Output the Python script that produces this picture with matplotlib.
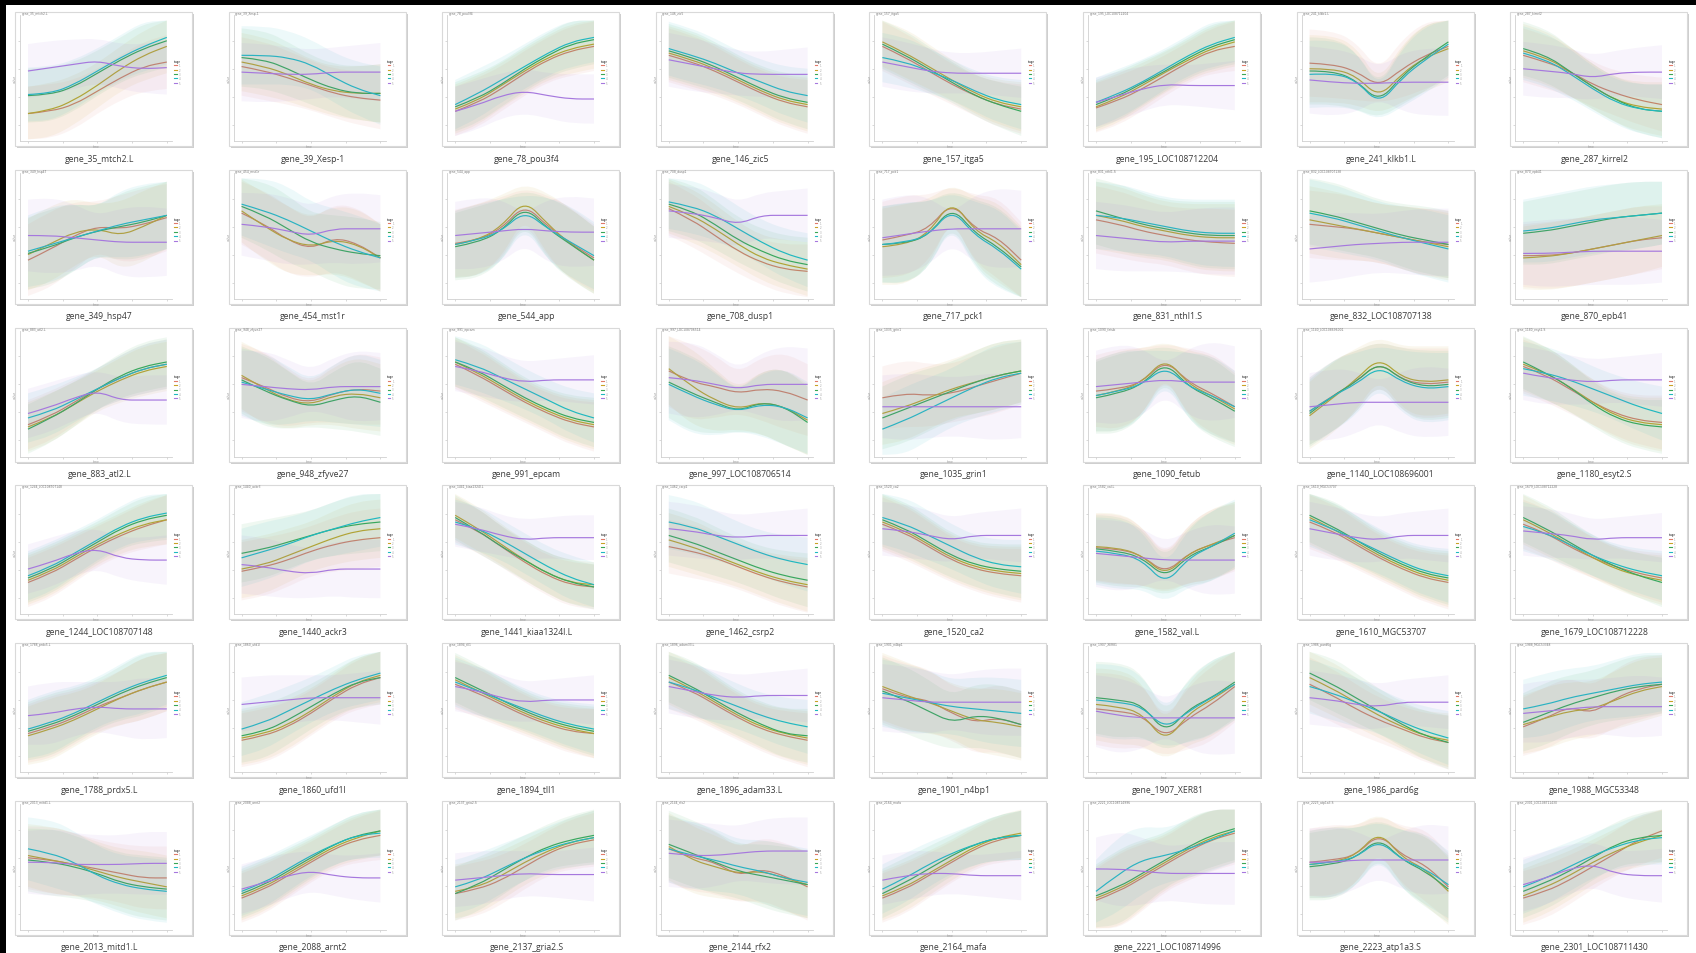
import numpy as np
import matplotlib
matplotlib.use("Agg")
import matplotlib.pyplot as plt
from matplotlib.patches import Rectangle, PathPatch
from matplotlib.path import Path

# ---------------- data ----------------
genes = ["gene_35_mtch2.L", "gene_39_Xesp-1", "gene_78_pou3f4", "gene_146_zic5", "gene_157_itga5",
         "gene_195_LOC108712204", "gene_241_klkb1.L", "gene_287_kirrel2",
         "gene_349_hsp47", "gene_454_mst1r", "gene_544_app", "gene_708_dusp1", "gene_717_pck1",
         "gene_831_nthl1.S", "gene_832_LOC108707138", "gene_870_epb41",
         "gene_883_atl2.L", "gene_948_zfyve27", "gene_991_epcam", "gene_997_LOC108706514", "gene_1035_grin1",
         "gene_1090_fetub", "gene_1140_LOC108696001", "gene_1180_esyt2.S",
         "gene_1244_LOC108707148", "gene_1440_ackr3", "gene_1441_kiaa1324l.L", "gene_1462_csrp2", "gene_1520_ca2",
         "gene_1582_val.L", "gene_1610_MGC53707", "gene_1679_LOC108712228",
         "gene_1788_prdx5.L", "gene_1860_ufd1l", "gene_1894_tll1", "gene_1896_adam33.L", "gene_1901_n4bp1",
         "gene_1907_XER81", "gene_1986_pard6g", "gene_1988_MGC53348",
         "gene_2013_mitd1.L", "gene_2088_arnt2", "gene_2137_gria2.S", "gene_2144_rfx2", "gene_2164_mafa",
         "gene_2221_LOC108714996", "gene_2223_atp1a3.S", "gene_2301_LOC108711430"]

time_points = [0, 0.67, 1.33, 2, 2.67, 3.33, 4]

red = [
    [20, 22, 28, 40, 52, 62, 66], [62, 58, 52, 45, 38, 34, 32], [22, 30, 42, 56, 68, 76, 80], [72, 66, 58, 48, 38, 30, 26],
    [80, 70, 58, 46, 36, 28, 24], [25, 32, 42, 54, 66, 76, 80], [65, 64, 58, 44, 60, 72, 80], [72, 66, 58, 46, 38, 32, 28],
    [30, 40, 52, 60, 58, 62, 68], [72, 62, 48, 40, 50, 45, 32], [45, 48, 58, 80, 60, 45, 32], [76, 66, 52, 38, 28, 22, 20],
    [48, 52, 58, 82, 58, 50, 30], [66, 62, 56, 52, 48, 46, 45], [62, 60, 58, 54, 50, 46, 44], [34, 34, 36, 40, 44, 48, 50],
    [24, 32, 44, 56, 66, 74, 78], [66, 58, 48, 44, 52, 56, 54], [78, 68, 56, 44, 34, 26, 22], [72, 62, 58, 52, 56, 54, 46],
    [48, 52, 50, 52, 58, 64, 70], [54, 56, 62, 82, 62, 52, 40], [36, 50, 62, 80, 64, 60, 62], [76, 68, 56, 44, 34, 28, 26],
    [24, 32, 44, 56, 66, 74, 80], [34, 38, 44, 52, 58, 62, 64], [80, 70, 56, 42, 30, 22, 20], [56, 52, 46, 38, 30, 24, 20],
    [76, 68, 56, 44, 36, 32, 30], [55, 54, 48, 32, 50, 58, 64], [78, 70, 58, 46, 36, 28, 24], [76, 68, 56, 46, 38, 32, 28],
    [30, 36, 44, 54, 62, 70, 76], [24, 28, 36, 48, 62, 74, 80], [74, 66, 56, 46, 38, 32, 30], [76, 68, 56, 44, 34, 28, 24],
    [70, 62, 60, 48, 40, 44, 38], [52, 50, 46, 26, 44, 56, 72], [74, 64, 52, 42, 34, 26, 22], [36, 44, 54, 48, 62, 70, 74],
    [60, 58, 54, 50, 46, 42, 42], [24, 32, 44, 56, 68, 76, 80], [28, 32, 40, 52, 64, 72, 76], [68, 60, 56, 44, 50, 44, 34],
    [24, 32, 44, 56, 68, 76, 80], [22, 30, 42, 54, 66, 76, 82], [56, 58, 62, 82, 62, 54, 34], [24, 30, 40, 52, 64, 76, 84]]

gold = [
    [20, 23, 32, 45, 60, 72, 80], [66, 62, 55, 46, 40, 38, 38], [24, 32, 45, 58, 70, 78, 82], [74, 68, 60, 50, 40, 32, 28],
    [84, 74, 62, 50, 38, 30, 26], [26, 34, 45, 57, 68, 78, 84], [60, 60, 54, 34, 56, 70, 78], [76, 70, 58, 44, 32, 26, 24],
    [35, 45, 55, 58, 52, 60, 70], [74, 60, 48, 42, 48, 44, 32], [44, 48, 60, 84, 62, 44, 30], [78, 70, 58, 44, 32, 26, 22],
    [42, 44, 54, 84, 56, 46, 26], [70, 66, 60, 56, 52, 50, 50], [66, 62, 58, 54, 50, 46, 42], [32, 33, 36, 40, 44, 48, 52],
    [22, 30, 42, 54, 64, 72, 76], [68, 56, 46, 42, 50, 52, 48], [80, 70, 58, 46, 36, 28, 24], [74, 58, 46, 38, 44, 40, 28],
    [34, 40, 48, 56, 62, 68, 72], [50, 54, 62, 84, 60, 50, 38], [32, 48, 64, 84, 66, 62, 64], [78, 70, 58, 44, 32, 26, 24],
    [26, 34, 46, 58, 68, 76, 80], [36, 40, 48, 56, 64, 70, 72], [84, 72, 58, 44, 32, 24, 22], [62, 56, 48, 40, 32, 26, 22],
    [78, 70, 58, 46, 38, 34, 32], [56, 55, 48, 30, 50, 58, 66], [82, 72, 60, 48, 38, 30, 26], [80, 70, 58, 46, 36, 30, 26],
    [28, 34, 42, 52, 62, 70, 76], [26, 30, 38, 50, 64, 76, 82], [78, 68, 58, 48, 40, 34, 30], [80, 70, 58, 46, 36, 30, 26],
    [72, 64, 58, 50, 42, 40, 36], [56, 54, 48, 22, 48, 60, 74], [80, 70, 58, 46, 36, 28, 24], [38, 44, 50, 52, 60, 68, 72],
    [62, 58, 54, 48, 42, 38, 34], [26, 34, 46, 58, 70, 78, 84], [30, 34, 44, 56, 66, 74, 78], [70, 58, 52, 46, 48, 42, 36],
    [26, 34, 46, 58, 70, 78, 82], [24, 32, 44, 56, 68, 78, 84], [54, 56, 62, 84, 60, 50, 30], [26, 34, 44, 56, 66, 74, 80]]

green = [
    [36, 37, 44, 56, 68, 78, 85], [70, 68, 60, 50, 42, 38, 38], [26, 34, 46, 60, 72, 82, 86], [76, 70, 62, 52, 42, 34, 30],
    [82, 72, 60, 48, 36, 28, 22], [28, 36, 47, 58, 70, 80, 86], [58, 58, 50, 30, 54, 70, 84], [78, 72, 58, 44, 32, 24, 22],
    [36, 42, 50, 56, 60, 64, 70], [78, 70, 58, 46, 40, 36, 34], [42, 46, 56, 78, 58, 44, 30], [80, 74, 62, 48, 38, 30, 26],
    [44, 45, 52, 78, 54, 42, 24], [74, 68, 62, 58, 54, 52, 52], [74, 70, 64, 58, 52, 48, 44], [54, 56, 60, 64, 68, 70, 72],
    [20, 30, 42, 56, 68, 76, 80], [64, 54, 46, 40, 46, 50, 44], [80, 72, 60, 48, 38, 30, 26], [62, 52, 44, 36, 44, 40, 26],
    [30, 38, 46, 54, 62, 68, 72], [48, 52, 60, 80, 58, 48, 36], [34, 50, 62, 80, 64, 58, 60], [80, 70, 58, 42, 30, 24, 22],
    [28, 36, 48, 60, 72, 80, 84], [50, 54, 60, 66, 72, 76, 78], [82, 70, 56, 44, 32, 24, 20], [66, 60, 52, 44, 36, 30, 26],
    [80, 72, 60, 48, 40, 36, 34], [54, 52, 46, 28, 48, 56, 66], [84, 74, 62, 50, 40, 32, 28], [82, 72, 60, 48, 38, 30, 24],
    [32, 38, 46, 56, 66, 74, 80], [28, 32, 42, 54, 66, 76, 80], [80, 70, 60, 50, 42, 36, 32], [82, 72, 60, 48, 38, 30, 28],
    [68, 60, 50, 40, 46, 44, 38], [62, 60, 56, 30, 52, 62, 76], [84, 74, 62, 50, 38, 28, 22], [40, 48, 56, 62, 68, 72, 74],
    [58, 56, 52, 46, 38, 34, 32], [28, 36, 48, 60, 72, 80, 84], [28, 36, 48, 60, 70, 76, 80], [72, 64, 56, 48, 44, 40, 36],
    [28, 38, 50, 62, 72, 78, 80], [26, 34, 46, 58, 70, 80, 86], [52, 54, 60, 78, 58, 48, 32], [30, 38, 48, 60, 72, 78, 80]]

teal = [
    [37, 38, 46, 58, 70, 80, 88], [72, 72, 70, 64, 52, 42, 36], [28, 38, 50, 62, 74, 84, 88], [78, 72, 65, 56, 48, 40, 36],
    [70, 66, 58, 50, 40, 32, 28], [30, 38, 48, 60, 72, 82, 88], [55, 56, 50, 28, 52, 68, 82], [74, 68, 56, 42, 30, 24, 22],
    [38, 44, 50, 56, 62, 66, 70], [80, 74, 66, 56, 46, 38, 32], [44, 48, 56, 74, 58, 46, 34], [82, 78, 70, 58, 46, 36, 30],
    [44, 46, 52, 76, 52, 40, 22], [70, 68, 64, 60, 56, 54, 54], [72, 68, 62, 56, 50, 45, 40], [56, 58, 62, 66, 68, 70, 72],
    [30, 36, 46, 56, 66, 74, 78], [62, 56, 50, 46, 52, 56, 52], [82, 76, 66, 56, 46, 36, 30], [60, 50, 42, 36, 42, 40, 30],
    [20, 28, 38, 48, 58, 66, 70], [50, 54, 60, 76, 58, 50, 40], [36, 50, 60, 76, 62, 56, 58], [74, 70, 64, 56, 48, 40, 34],
    [30, 38, 50, 62, 74, 82, 86], [46, 52, 58, 66, 72, 78, 82], [78, 72, 62, 50, 38, 28, 22], [78, 74, 66, 58, 50, 44, 40],
    [82, 76, 66, 56, 46, 40, 38], [52, 50, 44, 22, 46, 56, 68], [80, 72, 62, 52, 42, 34, 30], [74, 68, 58, 48, 40, 34, 30],
    [34, 40, 48, 58, 68, 76, 82], [34, 40, 50, 60, 70, 78, 84], [76, 68, 60, 52, 44, 38, 34], [76, 70, 62, 54, 46, 40, 36],
    [66, 62, 58, 54, 52, 50, 48], [60, 58, 54, 34, 50, 62, 74], [72, 66, 58, 50, 40, 32, 26], [52, 56, 62, 66, 70, 74, 76],
    [68, 64, 56, 44, 36, 32, 30], [30, 38, 50, 62, 72, 80, 82], [34, 40, 50, 60, 68, 74, 78], [68, 62, 58, 52, 48, 42, 38],
    [32, 42, 54, 64, 72, 78, 80], [30, 46, 58, 62, 68, 76, 84], [54, 56, 60, 76, 58, 50, 36], [34, 42, 52, 62, 70, 76, 78]]

purple = [
    [58, 61, 64, 67, 62, 60, 61], [57, 56, 55, 55, 57, 57, 57], [22, 28, 36, 40, 36, 33, 33], [68, 64, 60, 56, 55, 55, 55],
    [66, 62, 58, 56, 56, 56, 56], [30, 36, 42, 46, 45, 45, 45], [50, 48, 47, 47, 48, 48, 48], [60, 58, 56, 52, 56, 57, 57],
    [52, 52, 50, 48, 46, 46, 46], [62, 60, 56, 52, 58, 58, 58], [52, 54, 56, 58, 56, 55, 55], [74, 72, 68, 62, 70, 70, 70],
    [50, 53, 56, 58, 58, 58, 58], [52, 50, 48, 46, 47, 47, 47], [40, 42, 44, 45, 46, 46, 46], [36, 36, 37, 38, 38, 38, 38],
    [34, 40, 48, 54, 46, 46, 46], [60, 58, 56, 55, 58, 58, 58], [76, 72, 66, 62, 64, 64, 64], [66, 64, 60, 56, 60, 60, 60],
    [40, 40, 40, 40, 40, 40, 40], [58, 60, 62, 64, 62, 62, 62], [40, 42, 44, 44, 44, 44, 44], [70, 66, 64, 62, 64, 64, 64],
    [36, 42, 50, 54, 46, 44, 44], [40, 38, 34, 32, 36, 36, 36], [76, 72, 66, 62, 64, 64, 64], [72, 70, 66, 64, 66, 66, 66],
    [72, 70, 66, 62, 66, 66, 66], [50, 48, 46, 44, 44, 44, 44], [72, 68, 64, 62, 66, 66, 66], [70, 68, 66, 62, 64, 64, 64],
    [46, 48, 52, 54, 52, 52, 52], [56, 58, 60, 62, 62, 62, 62], [72, 68, 62, 58, 60, 60, 60], [72, 68, 64, 62, 64, 64, 64],
    [62, 60, 58, 58, 58, 58, 58], [50, 46, 44, 44, 44, 44, 44], [62, 60, 56, 54, 58, 58, 58], [48, 50, 52, 54, 54, 54, 54],
    [56, 56, 54, 54, 54, 55, 55], [32, 38, 44, 48, 44, 42, 42], [40, 42, 44, 46, 45, 45, 45], [64, 62, 62, 64, 66, 66, 66],
    [40, 44, 46, 46, 44, 44, 44], [50, 50, 48, 46, 46, 46, 46], [56, 56, 58, 58, 58, 58, 58], [36, 42, 50, 54, 46, 44, 44]]

spread = [
    [24, 24, 22, 20, 20, 22, 24], [26, 26, 24, 22, 22, 24, 26], [22, 22, 20, 20, 20, 22, 22], [24, 24, 22, 20, 20, 22, 24],
    [22, 22, 20, 18, 18, 20, 22], [22, 22, 20, 18, 18, 20, 22], [30, 30, 26, 14, 26, 30, 30], [24, 24, 22, 20, 20, 22, 24],
    [32, 34, 30, 22, 30, 32, 30], [28, 30, 30, 26, 30, 32, 30], [30, 32, 28, 14, 28, 32, 30], [24, 24, 22, 20, 20, 22, 24],
    [34, 36, 30, 14, 30, 36, 34], [30, 30, 28, 26, 28, 30, 30], [30, 30, 28, 26, 28, 30, 30], [28, 30, 30, 30, 30, 30, 28],
    [22, 22, 20, 18, 20, 22, 22], [30, 32, 26, 18, 26, 32, 30], [22, 22, 20, 18, 18, 20, 22], [32, 34, 28, 18, 28, 34, 32],
    [28, 30, 28, 26, 28, 30, 28], [32, 36, 30, 14, 30, 36, 32], [30, 32, 28, 18, 28, 32, 30], [24, 24, 22, 20, 20, 22, 24],
    [22, 22, 20, 18, 18, 20, 22], [26, 26, 24, 22, 24, 26, 26], [20, 20, 18, 18, 18, 20, 20], [24, 24, 22, 20, 20, 22, 24],
    [24, 24, 22, 20, 20, 22, 24], [30, 32, 26, 16, 26, 32, 30], [24, 24, 22, 20, 20, 22, 24], [22, 22, 20, 18, 18, 20, 22],
    [26, 28, 24, 22, 24, 28, 26], [24, 24, 22, 20, 20, 22, 24], [22, 22, 20, 18, 18, 20, 22], [24, 24, 22, 20, 20, 22, 24],
    [30, 30, 28, 24, 28, 30, 30], [32, 34, 28, 16, 28, 34, 32], [24, 24, 22, 20, 20, 22, 24], [26, 28, 26, 24, 26, 28, 26],
    [28, 30, 28, 26, 26, 28, 28], [22, 22, 20, 18, 18, 20, 22], [24, 24, 22, 20, 20, 22, 24], [30, 30, 28, 24, 28, 30, 30],
    [22, 22, 20, 18, 18, 20, 22], [28, 34, 30, 24, 26, 28, 28], [30, 32, 26, 16, 26, 32, 30], [24, 24, 22, 20, 20, 22, 24]]

group_names = ["1", "2", "3", "4", "5"]
colors = ["#e07a6a", "#c9a227", "#3aa655", "#20b8c0", "#a678de"]


# smooth (quadratic b-spline style) path through the read points
def smooth_path(xs, ys, start_code=Path.MOVETO):
    verts = [(xs[0], ys[0])]
    codes = [start_code]
    for k in range(1, len(xs) - 1):
        verts += [(xs[k], ys[k]), ((xs[k] + xs[k + 1]) / 2, (ys[k] + ys[k + 1]) / 2)]
        codes += [Path.CURVE3, Path.CURVE3]
    verts.append((xs[-1], ys[-1]))
    codes.append(Path.LINETO)
    return verts, codes


# ---------------- layout (pixels) ----------------
W_PX, H_PX = 1696, 954
fig = plt.figure(figsize=(W_PX / 100, H_PX / 100), dpi=100)
fig.patch.set_facecolor("white")

bg = fig.add_axes([0, 0, 1, 1])
bg.set_xlim(0, W_PX)
bg.set_ylim(H_PX, 0)
bg.axis("off")

# black screen edges
bg.add_patch(Rectangle((0, 0), W_PX, 6, fc="black", ec="none"))
bg.add_patch(Rectangle((0, 0), 6, H_PX, fc="black", ec="none"))

col_step, row_step = 213.6, 157.8
tw, th = 177, 134

for i, gene in enumerate(genes):
    r, c = divmod(i, 8)
    fx = 15 + c * col_step
    fy = 13 + r * row_step

    # thumbnail frame with a little shadow
    bg.add_patch(Rectangle((fx + 2, fy + 2), tw, th, fc="#cfcfcf", ec="none"))
    bg.add_patch(Rectangle((fx, fy), tw, th, fc="white", ec="#d9d9d9", lw=0.8))
    bg.text(fx + tw / 2 - 4, fy + th + 12, gene, ha="center", va="center",
            fontsize=6.2, color="#3a3a3a", family="Open Sans")

    # the small plot inside
    ax = fig.add_axes([(fx + 5) / W_PX, 1 - (fy + 129) / H_PX, 152 / W_PX, 126 / H_PX])
    ax.set_facecolor("none")
    sp = np.array(spread[i])
    for vals, col, name in zip([red[i], gold[i], green[i], teal[i], purple[i]], colors, group_names):
        v = np.array(vals)
        lo = np.clip(v - sp, -3, 103)
        hi = np.clip(v + sp, -3, 103)
        up_v, up_c = smooth_path(time_points, hi)
        dn_v, dn_c = smooth_path(time_points[::-1], lo[::-1], Path.LINETO)
        band = Path(up_v + dn_v + [up_v[0]], up_c + dn_c + [Path.CLOSEPOLY])
        ax.add_patch(PathPatch(band, fc=col, ec="none", alpha=0.08))
        ln_v, ln_c = smooth_path(time_points, v)
        ax.add_patch(PathPatch(Path(ln_v, ln_c), fc="none", ec=col, lw=0.85))
        ax.plot([], [], color=col, lw=0.8, label=name)

    ax.set_xlim(-0.23, 4.15)
    ax.set_ylim(-4.5, 108)
    ax.set_xticks([0, 1, 2, 3, 4])
    ax.set_yticks([10, 35, 60, 85])
    ax.tick_params(length=1.5, width=0.4, color="#bbbbbb", labelbottom=False, labelleft=False)
    for s in ["top", "right"]:
        ax.spines[s].set_visible(False)
    for s in ["left", "bottom"]:
        ax.spines[s].set_color("#d0d0d0")
        ax.spines[s].set_linewidth(0.6)
    ax.text(0.01, 1.0, gene, transform=ax.transAxes,
            fontsize=2.2, color="#777777", va="bottom")
    ax.set_xlabel("time", fontsize=2.2, color="#999999", labelpad=0.5)
    ax.set_ylabel("value", fontsize=2.2, color="#999999", labelpad=0.5)
    leg = ax.legend(title="stage", fontsize=1.8, title_fontsize=1.8, loc="center left",
                    bbox_to_anchor=(1.0, 0.55), frameon=False, handlelength=1.0,
                    labelspacing=0.15, borderpad=0.2)
    for t in leg.get_texts():
        t.set_color("#999999")

plt.savefig("out.png", dpi=100, facecolor="white")
